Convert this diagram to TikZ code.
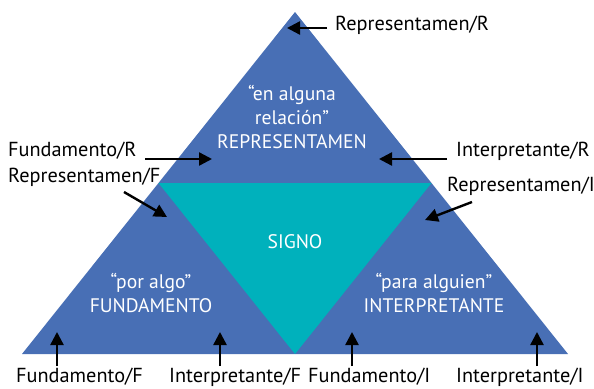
\documentclass[tikz,border=0pt]{standalone}
\usepackage{fontspec}
\setmainfont{PT Sans}
\usetikzlibrary{arrows.meta,calc}
\definecolor{triblue}{RGB}{72,111,181}
\definecolor{signteal}{RGB}{0,177,188}
\begin{document}
\begin{tikzpicture}[x=1pt,y=-1pt,
  lbl/.style={font=\fontsize{20.3}{23}\selectfont, text=black, inner sep=0pt, anchor=west},
  wlbl/.style={font=\fontsize{19.6}{24}\selectfont, text=white, align=center, inner sep=0pt},
  arr/.style={-{Triangle[length=13pt,width=13pt]}, line width=2.4pt}]
\useasboundingbox (0,0) rectangle (594,388);
% big triangle
\coordinate (A) at (295,12);
\coordinate (B) at (22,354);
\coordinate (C) at (568,354);
\fill[triblue] (A) -- (B) -- (C) -- cycle;
\coordinate (AB) at ($(A)!0.5!(B)$);
\coordinate (AC) at ($(A)!0.5!(C)$);
\coordinate (BC) at ($(B)!0.5!(C)$);
\fill[signteal] (AB) -- (AC) -- (BC) -- cycle;
% white texts
\node[wlbl] (rep) at (292,117) {“en alguna\\relación”\\REPRESENTAMEN};
\node[wlbl] (signo) at (295,242) {SIGNO};
\node[wlbl] (fund) at (151,293) {“por algo”\\FUNDAMENTO};
\node[wlbl] (interp) at (434,293) {“para alguien”\\INTERPRETANTE};
% black labels
\node[lbl] (lRR) at (335,25) {Representamen/R};
\node[lbl] (lFR) at (8,151) {Fundamento/R};
\node[lbl] (lRF) at (8,177) {Representamen/F};
\node[lbl] (lIR) at (456,151) {Interpretante/R};
\node[lbl] (lRI) at (447,186) {Representamen/I};
\node[lbl] (lFF) at (16,377) {Fundamento/F};
\node[lbl] (lIF) at (169,377) {Interpretante/F};
\node[lbl] (lFI) at (308,377) {Fundamento/I};
\node[lbl] (lII) at (456,377) {Interpretante/I};
% arrows
\coordinate (t1) at (327,28);  \coordinate (h1) at (287,28);
\coordinate (t2) at (145,159); \coordinate (h2) at (212,159);
\coordinate (t3) at (124,192); \coordinate (h3) at (167,217);
\coordinate (t4) at (447,159); \coordinate (h4) at (379,159);
\coordinate (t5) at (472,202); \coordinate (h5) at (425,220);
\coordinate (t6) at (57,366);  \coordinate (h6) at (57,332);
\coordinate (t7) at (220,366); \coordinate (h7) at (220,332);
\coordinate (t8) at (352,366); \coordinate (h8) at (352,332);
\coordinate (t9) at (537,366); \coordinate (h9) at (537,332);
\foreach \i in {1,...,9} { \draw[arr] (t\i) -- (h\i); }
\end{tikzpicture}
\end{document}
